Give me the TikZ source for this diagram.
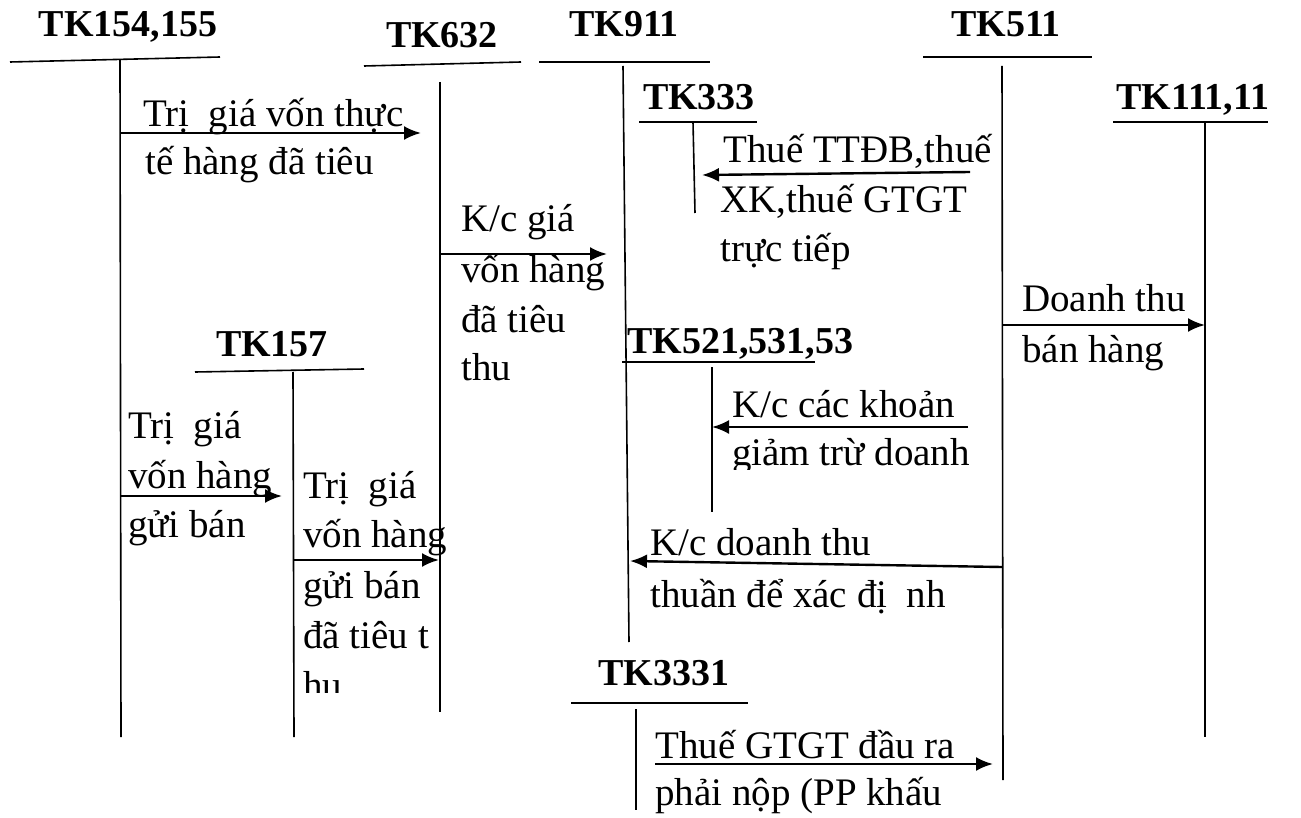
\documentclass[tikz,border=0pt]{standalone}
\usepackage{fontspec}
\setmainfont{Liberation Serif}
\usetikzlibrary{arrows.meta}
\tikzset{
  acct/.style={line width=1.6pt},
  flow/.style={line width=2.4pt,-{Latex[length=17pt,width=14pt]}},
  ttl/.style={font=\fontsize{38}{42}\selectfont\bfseries,inner sep=0pt,anchor=base},
  ttlw/.style={font=\fontsize{38}{42}\selectfont\bfseries,inner sep=0pt,anchor=base west},
  lbl/.style={font=\fontsize{39}{45}\selectfont,inner sep=0pt,anchor=base west},
}
\begin{document}
\begin{tikzpicture}[x=1pt,y=-1pt]
\useasboundingbox[fill=white] (0,0) rectangle (1301,818);

% ---- account titles ----
\node[ttl] (t154) at (128,37) {TK154,155};
\node[ttl] (t632) at (442,48) {TK632};
\node[ttl] (t911) at (624,37) {TK911};
\node[ttl] (t511) at (1006,37) {TK511};
\node[ttl] (t333) at (699,110) {TK333};
\node[ttlw] (t111) at (1116,110) {TK111,11};
\node[ttl] (t157) at (272,356) {TK157};
\node[ttlw] (t521) at (627,353) {TK521,531,53};
\node[ttl] (t3331) at (664,685) {TK3331};

% ---- T-account lines ----
\coordinate (u154a) at (10,62);   \coordinate (u154b) at (220,57);
\coordinate (v154a) at (120,60);  \coordinate (v154b) at (121,737);
\coordinate (u632a) at (364,66);  \coordinate (u632b) at (521,62);
\coordinate (v632a) at (440,82);  \coordinate (v632b) at (440,712);
\coordinate (u911a) at (539,62);  \coordinate (u911b) at (710,62);
\coordinate (v911a) at (623,66);  \coordinate (v911b) at (629,642);
\coordinate (u511a) at (923,57);  \coordinate (u511b) at (1092,57);
\coordinate (v511a) at (1002,66); \coordinate (v511b) at (1003,780);
\coordinate (u333a) at (639,122); \coordinate (u333b) at (757,122);
\coordinate (v333a) at (693,122); \coordinate (v333b) at (695,213);
\coordinate (u111a) at (1113,122);\coordinate (u111b) at (1268,122);
\coordinate (v111a) at (1205,122);\coordinate (v111b) at (1205,737);
\coordinate (u157a) at (195,372); \coordinate (u157b) at (364,369);
\coordinate (v157a) at (293,372); \coordinate (v157b) at (294,737);
\coordinate (u521a) at (622,362); \coordinate (u521b) at (815,362);
\coordinate (v521a) at (712,367); \coordinate (v521b) at (712,512);
\coordinate (u3331a) at (571,703);\coordinate (u3331b) at (748,703);
\coordinate (v3331a) at (636,709);\coordinate (v3331b) at (636,810);

\foreach \k in {154,632,911,511,333,111,157,521,3331}{
  \draw[acct] (u\k a) -- (u\k b);
  \draw[acct] (v\k a) -- (v\k b);
}

% ---- arrows ----
\coordinate (a1) at (121,133);  \coordinate (a2) at (421,133);
\coordinate (b1) at (440,254);  \coordinate (b2) at (607,254);
\coordinate (c1) at (970,172);  \coordinate (c2) at (702,175);
\coordinate (d1) at (1002,325); \coordinate (d2) at (1205,325);
\coordinate (e1) at (121,496);  \coordinate (e2) at (282,496);
\coordinate (f1) at (294,560);  \coordinate (f2) at (439,560);
\coordinate (g1) at (968,427);  \coordinate (g2) at (712,427);
\coordinate (h1) at (1002,567); \coordinate (h2) at (630,561);
\coordinate (i1) at (655,764);  \coordinate (i2) at (993,764);
\foreach \k in {a,b,c,d,e,f,g,h,i}{
  \draw[flow] (\k1) -- (\k2);
}

% ---- labels ----
\node[lbl] (la1) at (143,127) {Trị~ giá vốn thực};
\node[lbl] (la2) at (145,175) {tế hàng đã tiêu};

\node[lbl] (lb1) at (461,232) {K/c giá};
\node[lbl] (lb2) at (461,283) {vốn hàng};
\node[lbl] (lb3) at (461,332) {đã tiêu};
\node[lbl] (lb4) at (461,380) {thu};

\node[lbl] (lc1) at (723,163) {Thuế TTĐB,thuế};
\node[lbl] (lc2) at (720,213) {XK,thuế GTGT};
\node[lbl] (lc3) at (720,262) {trực tiếp};

\node[lbl] (ld1) at (1022,312) {Doanh thu};
\node[lbl] (ld2) at (1022,362) {bán hàng};

\node[lbl] (le1) at (128,438) {Trị~ giá};
\node[lbl] (le2) at (128,488) {vốn hàng};
\node[lbl] (le3) at (128,537) {gửi bán};

\node[lbl] (lf1) at (303,498) {Trị~ giá};
\node[lbl] (lf2) at (303,547) {vốn hàng};
\node[lbl] (lf3) at (303,598) {gửi bán};
\node[lbl] (lf4) at (303,648) {đã tiêu t};
\begin{scope}
  \clip (290,660) rectangle (460,692);
  \node[lbl] (lf5) at (303,698) {hu};
\end{scope}

\node[lbl] (lg1) at (732,417) {K/c các khoản};
\begin{scope}
  \clip (715,430) rectangle (1000,469);
  \node[lbl] (lg2) at (732,465) {giảm trừ doanh};
\end{scope}

\node[lbl] (lh1) at (650,555) {K/c doanh thu};
\node[lbl] (lh2) at (650,607) {thuần để xác đị~ nh};

\node[lbl] (li1) at (655,758) {Thuế GTGT đầu ra};
\node[lbl] (li2) at (655,805) {phải nộp (PP khấu};
\end{tikzpicture}
\end{document}
